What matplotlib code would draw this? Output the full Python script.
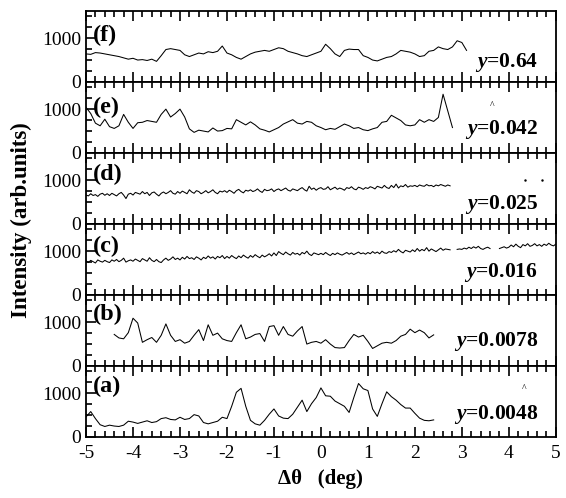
import matplotlib
matplotlib.use("Agg")
import matplotlib.pyplot as plt
import numpy as np
from matplotlib.ticker import MultipleLocator

plt.rcParams['font.family'] = ['Liberation Serif', 'DejaVu Serif']
plt.rcParams['mathtext.fontset'] = 'custom'
plt.rcParams['mathtext.it'] = 'Liberation Serif:italic:bold'
plt.rcParams['mathtext.rm'] = 'Liberation Serif:bold'

# ---- data (intensity, arb. units) ----
# (f) y=0.64, from -5.0 step 0.1
f_start, f_step = -5.0, 0.1
f_vals = [640, 630, 670, 660, 640, 620, 600, 580, 550, 520,
          540, 500, 510, 490, 520, 470, 600, 740, 760, 740,
          720, 620, 580, 620, 660, 640, 690, 670, 700, 820,
          660, 620, 560, 520, 580, 640, 680, 700, 720, 700,
          740, 780, 760, 700, 670, 640, 600, 580, 620, 660,
          700, 860, 760, 640, 580, 720, 750, 740, 740, 600,
          560, 500, 480, 520, 560, 580, 640, 720, 700, 680,
          640, 580, 600, 700, 720, 800, 760, 740, 800, 940,
          900, 720]

# (e) y=0.042, from -5.0 step 0.1
e_start, e_step = -5.0, 0.1
e_vals = [1040, 900, 680, 620, 770, 600, 560, 620, 880, 700,
          560, 690, 700, 740, 720, 700, 880, 1000, 820, 900,
          1000, 820, 550, 470, 520, 500, 480, 570, 500, 510,
          560, 550, 760, 700, 640, 710, 640, 550, 520, 480,
          530, 580, 660, 710, 760, 680, 660, 720, 700, 620,
          580, 530, 560, 540, 600, 660, 620, 560, 580, 530,
          510, 550, 580, 700, 720, 860, 800, 740, 640, 620,
          640, 760, 700, 760, 720, 810, 1340, 960, 580]

# (d) y=0.025, from -5.0 step 0.05
d_start, d_step = -5.0, 0.05
d_vals = [660, 640, 690, 650, 670, 630, 680, 700, 655, 690,
          650, 700, 670, 640, 690, 720, 660, 580, 680, 700,
          660, 720, 700, 680, 740, 690, 720, 650, 710, 730,
          680, 640, 700, 730, 690, 720, 760, 700, 680, 740,
          700, 750, 720, 690, 780, 730, 700, 760, 740, 690,
          720, 760, 710, 740, 780, 720, 690, 750, 730, 760,
          720, 770, 740, 700, 760, 790, 740, 710, 770, 750,
          780, 740, 760, 800, 750, 720, 790, 760, 770, 800,
          740, 780, 800, 760, 790, 820, 770, 750, 800, 780,
          760, 800, 830, 780, 750, 860, 790, 820, 770, 810,
          830, 790, 800, 850, 780, 810, 840, 790, 820, 800,
          770, 830, 810, 850, 800, 780, 840, 820, 790, 830,
          810, 850, 830, 800, 860, 840, 820, 880, 830, 810,
          880, 830, 910, 820, 870, 850, 900, 840, 870, 860,
          880, 850, 890, 870, 860, 900, 870, 880, 850, 890,
          870, 900, 880, 860, 890, 870]

# (c) y=0.016, from -5.0 step 0.05 (nan = gap in trace)
c_start, c_step = -5.0, 0.05
nan = np.nan
c_vals = [780, 740, 790, 760, 730, 800, 770, 750, 790, 760,
          740, 800, 770, 810, 760, 790, 840, 750, 780, 800,
          770, 820, 790, 760, 830, 800, 770, 850, 790, 760,
          810, 760, 740, 800, 840, 790, 820, 870, 810, 840,
          800, 860, 820, 880, 830, 850, 810, 870, 840, 800,
          860, 830, 890, 840, 870, 820, 880, 850, 900, 830,
          880, 840, 900, 860, 830, 890, 850, 910, 870, 840,
          900, 860, 920, 880, 850, 910, 870, 900, 940, 890,
          960, 900, 990, 950, 920, 980, 940, 910, 970, 930,
          950, 910, 970, 940, 1000, 930, 900, 960, 940, 920,
          950, 920, 970, 930, 900, 950, 920, 960, 930, 910,
          940, 970, 930, 960, 920, 950, 980, 940, 960, 930,
          970, 940, 990, 950, 980, 940, 1000, 960, 950, 990,
          970, 1010, 980, 1040, 990, 960, 1020, 1000, 980, 1030,
          990, 1060, 1000, 1040, 1010, 1080, 1000, 1050, 1020, 990,
          1030, 1070, 1020, 1050, 1040, 1030, nan, nan, 1040, 1050,
          1040, 1070, 1050, 1090, 1060, 1100, 1070, 1110, 1060, 1040,
          1070, 1090, 1060, nan, nan, nan, 1060, 1080, 1100, 1070,
          1090, 1140, 1100, 1160, 1110, 1080, 1150, 1120, 1170, 1110,
          1130, 1170, 1120, 1150, 1110, 1160, 1130, 1180, 1140, 1120,
          1160]

# (b) y=0.0078, from -4.4 step 0.1
b_start, b_step = -4.4, 0.1
b_vals = [720, 640, 620, 760, 1090, 980, 540, 600, 650, 540,
          700, 960, 700, 560, 600, 520, 560, 700, 830, 580,
          940, 700, 750, 620, 580, 560, 760, 940, 620, 660,
          720, 740, 560, 900, 920, 700, 900, 720, 680, 800,
          900, 500, 540, 560, 520, 600, 500, 420, 410, 420,
          580, 720, 660, 700, 560, 400, 460, 520, 540, 520,
          580, 680, 720, 840, 760, 820, 760, 640, 710]

# (a) y=0.0048, from -5.0 step 0.1
a_start, a_step = -5.0, 0.1
a_vals = [460, 580, 420, 280, 240, 270, 250, 240, 270, 360,
          340, 310, 340, 370, 330, 350, 420, 440, 400, 390,
          450, 400, 420, 510, 480, 330, 300, 330, 360, 450,
          420, 700, 1020, 1110, 700, 380, 300, 270, 380, 520,
          640, 480, 430, 420, 520, 680, 840, 580, 760, 900,
          1120, 940, 930, 820, 760, 700, 560, 900, 1220, 1100,
          1060, 640, 470, 760, 1030, 920, 840, 740, 660, 660,
          540, 430, 380, 370, 390]

panel_tags = ["(f)", "(e)", "(d)", "(c)", "(b)", "(a)"]
y_values = ["0.64", "0.042", "0.025", "0.016", "0.0078", "0.0048"]
series = [(f_start, f_step, f_vals), (e_start, e_step, e_vals),
          (d_start, d_step, d_vals), (c_start, c_step, c_vals),
          (b_start, b_step, b_vals), (a_start, a_step, a_vals)]

# layout of the in-panel texts (axes fractions)
tag_y = [0.66, 0.64, 0.70, 0.69, 0.73, 0.71]
yval_y = [0.27, 0.33, 0.28, 0.32, 0.35, 0.31]

fig = plt.figure(figsize=(5.66, 4.98), dpi=100)
axes = fig.subplots(6, 1, sharex=True)
fig.subplots_adjust(left=0.152, right=0.982, top=0.978, bottom=0.1225, hspace=0)

for i, ax in enumerate(axes):
    start, step, vals = series[i]
    y = np.asarray(vals, dtype=float)
    x = start + step * np.arange(len(y))
    ax.plot(x, y, color='black', lw=0.75)

    ax.set_xlim(-5, 5)
    ax.set_ylim(0, 1620)
    ax.set_yticks([0, 1000])
    ax.yaxis.set_minor_locator(MultipleLocator(250))
    ax.xaxis.set_major_locator(MultipleLocator(1))
    ax.xaxis.set_minor_locator(MultipleLocator(0.2))
    ax.tick_params(which='both', direction='in', top=True, bottom=True,
                   right=False, labelsize=14, width=1.2)
    ax.tick_params(which='major', length=7)
    ax.tick_params(which='minor', length=4)
    for sp in ax.spines.values():
        sp.set_linewidth(1.3)

    ax.text(0.015, tag_y[i], panel_tags[i], transform=ax.transAxes,
            fontsize=17.5, fontweight='bold', ha='left', va='center')
    ax.text(0.962, yval_y[i], r"$y$=" + y_values[i], transform=ax.transAxes,
            fontsize=15.5, fontweight='bold', ha='right', va='center')

# small stray marks that appear on the scan
axes[1].text(3.64, 1090, "^", fontsize=7, ha='center', va='center')
axes[5].text(4.32, 1110, "^", fontsize=7, ha='center', va='center')
axes[2].plot([4.34, 4.7], [1000, 1000], ls='none', marker='.', ms=1.5, color='black')

axes[-1].set_xticks([-5, -4, -3, -2, -1, 0, 1, 2, 3, 4, 5])
axes[-1].set_xticklabels(["-5", "-4", "-3", "-2", "-1", "0", "1", "2", "3", "4", "5"])
axes[-1].tick_params(axis='x', pad=6)
axes[-1].set_xlabel("\u0394\u03b8   (deg)", fontsize=15, fontweight='bold', labelpad=5)

fig.text(0.038, 0.558, "Intensity (arb.units)", rotation=90, fontsize=16.5,
         fontweight='bold', ha='center', va='center')

fig.savefig("out.png", dpi=100)
